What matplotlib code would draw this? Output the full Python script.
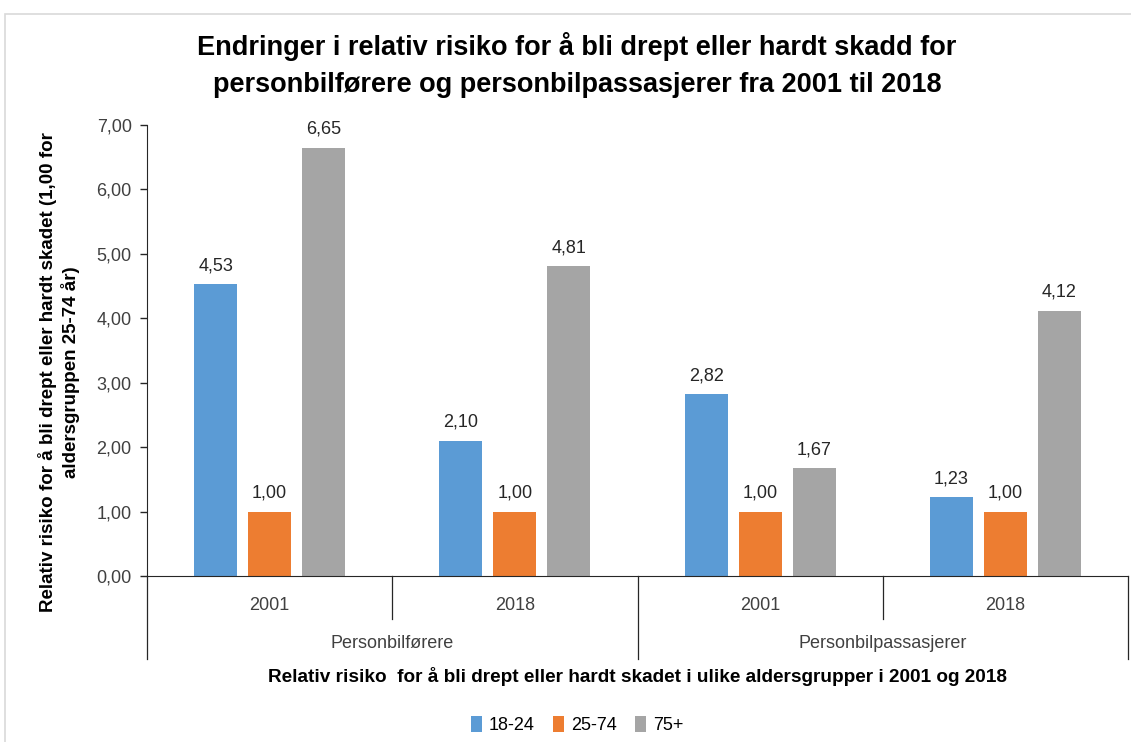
import matplotlib.pyplot as plt
import matplotlib.patches as mpatches
import matplotlib.transforms as mtransforms
import numpy as np

plt.rcParams["font.family"] = ["Liberation Sans", "DejaVu Sans"]

# data
years = ["2001", "2018", "2001", "2018"]
groups = ["Personbilførere", "Personbilpassasjerer"]
series = ["18-24", "25-74", "75+"]
v_18_24 = [4.53, 2.10, 2.82, 1.23]
v_25_74 = [1.00, 1.00, 1.00, 1.00]
v_75 = [6.65, 4.81, 1.67, 4.12]
colors = ["#5B9BD5", "#ED7D31", "#A5A5A5"]

fig = plt.figure(figsize=(11.31, 7.42), dpi=100)
fig.patches.append(mpatches.Rectangle((5 / 1131, -0.01), 1.1, 1 - 14 / 742 + 0.01,
                                      transform=fig.transFigure, fill=False,
                                      edgecolor="#d9d9d9", linewidth=1.2))
ax = fig.add_axes([147 / 1131, 1 - 576 / 742, (1128 - 147) / 1131, (576 - 125) / 742])

x = np.arange(len(years))
width = 0.175
step = 0.22
for i, (vals, c, name) in enumerate(zip([v_18_24, v_25_74, v_75], colors, series)):
    pos = x + (i - 1) * step
    bars = ax.bar(pos, vals, width, color=c, label=name)
    for b, v in zip(bars, vals):
        ax.annotate(f"{v:.2f}".replace(".", ","), (b.get_x() + b.get_width() / 2, v),
                    xytext=(0, 7), textcoords="offset points", ha="center", va="bottom",
                    fontsize=13, color="#262626")

ax.set_xlim(-0.5, len(years) - 0.5)
ax.set_ylim(0, 7)
ax.set_yticks(np.arange(0, 8, 1))
ax.set_yticklabels([f"{t:.2f}".replace(".", ",") for t in np.arange(0, 8, 1)],
                   fontsize=13, color="#404040")
ax.tick_params(axis="y", length=5, width=1, color="#262626", pad=6)
ax.set_xticks([])
for s in ["top", "right"]:
    ax.spines[s].set_visible(False)
ax.spines["left"].set_color("#262626")
ax.spines["bottom"].set_color("#262626")

# multi-level category axis
trans = mtransforms.blended_transform_factory(ax.transData, ax.transAxes)
px = 1 / (576 - 125)
for xi in [0.5, 2.5]:
    ax.plot([xi, xi], [0, -(619 - 576) * px], transform=trans, color="#262626",
            linewidth=0.9, clip_on=False)
for xi in [-0.5, 1.5, 3.5]:
    ax.plot([xi, xi], [0, -(659 - 576) * px], transform=trans, color="#262626",
            linewidth=0.9, clip_on=False)
for xi, y in zip(x, years):
    ax.text(xi, -(605 - 576) * px, y, transform=trans, ha="center", va="center",
            fontsize=13, color="#404040")
for gi, g in enumerate(groups):
    ax.text(2 * gi + 0.5, -(643 - 576) * px, g, transform=trans, ha="center",
            va="center", fontsize=13, color="#404040")

fig.text(637 / 1131, 1 - 677 / 742,
         "Relativ risiko  for å bli drept eller hardt skadet i ulike aldersgrupper i 2001 og 2018",
         ha="center", va="center", fontsize=13.7, fontweight="bold")
fig.text(59 / 1131, 1 - 372 / 742,
         "Relativ risiko for å bli drept eller hardt skadet (1,00 for\naldersgruppen 25-74 år)",
         ha="center", va="center", rotation=90, fontsize=13.5, fontweight="bold",
         linespacing=1.25)
fig.text(577 / 1131, 1 - 65 / 742,
         "Endringer i relativ risiko for å bli drept eller hardt skadd for\n"
         "personbilførere og personbilpassasjerer fra 2001 til 2018",
         ha="center", va="center", fontsize=19.5, fontweight="bold", linespacing=1.55)

fig.legend(loc="center", bbox_to_anchor=(577 / 1131, 1 - 725 / 742), ncol=3,
           frameon=False, fontsize=13, handlelength=0.6, handleheight=1.0,
           handletextpad=0.4, columnspacing=1.0)

fig.savefig("out.png", dpi=100, facecolor="white")
